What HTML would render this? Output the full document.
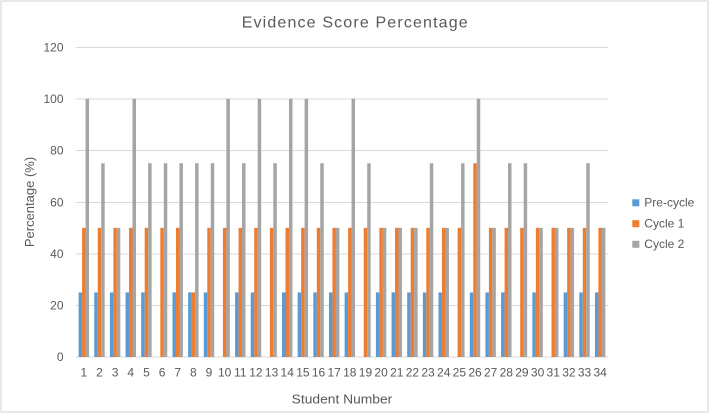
<!DOCTYPE html>
<html>
<head>
<meta charset="utf-8">
<style>
html,body{margin:0;padding:0;background:#fff;}
svg{display:block;font-family:"Liberation Sans",sans-serif;}
.b{fill:#5B9BD5}
.o{fill:#ED7D31}
.g{fill:#A5A5A5}
.t{fill:#595959}
</style>
</head>
<body>
<svg width="710" height="414" viewBox="0 0 710 414" xmlns="http://www.w3.org/2000/svg">
<rect x="0" y="0" width="710" height="414" fill="#fff"/>
<rect x="1" y="1" width="707" height="411" fill="none" stroke="#D9D9D9" stroke-width="1.2"/>
<text class="t" x="241.7" y="27.3" font-size="16" textLength="226" lengthAdjust="spacing">Evidence Score Percentage</text>
<g stroke="#D9D9D9" stroke-width="1">
<line x1="76" x2="608" y1="47.5" y2="47.5"/>
<line x1="76" x2="608" y1="99" y2="99"/>
<line x1="76" x2="608" y1="150.5" y2="150.5"/>
<line x1="76" x2="608" y1="202.5" y2="202.5"/>
<line x1="76" x2="608" y1="254" y2="254"/>
<line x1="76" x2="608" y1="305.5" y2="305.5"/>
<line x1="76" x2="608" y1="357" y2="357"/>
</g>
<g class="t" font-size="12" text-anchor="end">
<text x="63.5" y="51.5">120</text>
<text x="63.5" y="103">100</text>
<text x="63.5" y="154.5">80</text>
<text x="63.5" y="206.5">60</text>
<text x="63.5" y="258">40</text>
<text x="63.5" y="309.5">20</text>
<text x="63.5" y="361">0</text>
</g>
<text class="t" font-size="13" transform="translate(34,202) rotate(-90)" text-anchor="middle">Percentage (%)</text>
<text class="t" font-size="13" x="291.7" y="403.5" textLength="100.6" lengthAdjust="spacingAndGlyphs">Student Number</text>

<defs>
<rect id="b25" class="b" x="2.61" y="292.42" width="3.48" height="64.58"/>
<rect id="o25" class="o" x="6.09" y="292.42" width="3.48" height="64.58"/>
<rect id="o50" class="o" x="6.09" y="227.83" width="3.48" height="129.17"/>
<rect id="o75" class="o" x="6.09" y="163.25" width="3.48" height="193.75"/>
<rect id="g50" class="g" x="9.56" y="227.83" width="3.48" height="129.17"/>
<rect id="g75" class="g" x="9.56" y="163.25" width="3.48" height="193.75"/>
<rect id="g100" class="g" x="9.56" y="98.67" width="3.48" height="258.33"/>
</defs>

<g transform="translate(76,0)"><use href="#b25"/><use href="#o50"/><use href="#g100"/></g>
<g transform="translate(91.65,0)"><use href="#b25"/><use href="#o50"/><use href="#g75"/></g>
<g transform="translate(107.29,0)"><use href="#b25"/><use href="#o50"/><use href="#g50"/></g>
<g transform="translate(122.94,0)"><use href="#b25"/><use href="#o50"/><use href="#g100"/></g>
<g transform="translate(138.59,0)"><use href="#b25"/><use href="#o50"/><use href="#g75"/></g>
<g transform="translate(154.24,0)"><use href="#o50"/><use href="#g75"/></g>
<g transform="translate(169.88,0)"><use href="#b25"/><use href="#o50"/><use href="#g75"/></g>
<g transform="translate(185.53,0)"><use href="#b25"/><use href="#o25"/><use href="#g75"/></g>
<g transform="translate(201.18,0)"><use href="#b25"/><use href="#o50"/><use href="#g75"/></g>
<g transform="translate(216.82,0)"><use href="#o50"/><use href="#g100"/></g>
<g transform="translate(232.47,0)"><use href="#b25"/><use href="#o50"/><use href="#g75"/></g>
<g transform="translate(248.12,0)"><use href="#b25"/><use href="#o50"/><use href="#g100"/></g>
<g transform="translate(263.76,0)"><use href="#o50"/><use href="#g75"/></g>
<g transform="translate(279.41,0)"><use href="#b25"/><use href="#o50"/><use href="#g100"/></g>
<g transform="translate(295.06,0)"><use href="#b25"/><use href="#o50"/><use href="#g100"/></g>
<g transform="translate(310.71,0)"><use href="#b25"/><use href="#o50"/><use href="#g75"/></g>
<g transform="translate(326.35,0)"><use href="#b25"/><use href="#o50"/><use href="#g50"/></g>
<g transform="translate(342,0)"><use href="#b25"/><use href="#o50"/><use href="#g100"/></g>
<g transform="translate(357.65,0)"><use href="#o50"/><use href="#g75"/></g>
<g transform="translate(373.29,0)"><use href="#b25"/><use href="#o50"/><use href="#g50"/></g>
<g transform="translate(388.94,0)"><use href="#b25"/><use href="#o50"/><use href="#g50"/></g>
<g transform="translate(404.59,0)"><use href="#b25"/><use href="#o50"/><use href="#g50"/></g>
<g transform="translate(420.24,0)"><use href="#b25"/><use href="#o50"/><use href="#g75"/></g>
<g transform="translate(435.88,0)"><use href="#b25"/><use href="#o50"/><use href="#g50"/></g>
<g transform="translate(451.53,0)"><use href="#o50"/><use href="#g75"/></g>
<g transform="translate(467.18,0)"><use href="#b25"/><use href="#o75"/><use href="#g100"/></g>
<g transform="translate(482.82,0)"><use href="#b25"/><use href="#o50"/><use href="#g50"/></g>
<g transform="translate(498.47,0)"><use href="#b25"/><use href="#o50"/><use href="#g75"/></g>
<g transform="translate(514.12,0)"><use href="#o50"/><use href="#g75"/></g>
<g transform="translate(529.76,0)"><use href="#b25"/><use href="#o50"/><use href="#g50"/></g>
<g transform="translate(545.41,0)"><use href="#o50"/><use href="#g50"/></g>
<g transform="translate(561.06,0)"><use href="#b25"/><use href="#o50"/><use href="#g50"/></g>
<g transform="translate(576.71,0)"><use href="#b25"/><use href="#o50"/><use href="#g75"/></g>
<g transform="translate(592.35,0)"><use href="#b25"/><use href="#o50"/><use href="#g50"/></g>

<g class="t" font-size="12" text-anchor="middle">
<text x="83.82" y="376.5">1</text>
<text x="99.47" y="376.5">2</text>
<text x="115.11" y="376.5">3</text>
<text x="130.76" y="376.5">4</text>
<text x="146.41" y="376.5">5</text>
<text x="162.06" y="376.5">6</text>
<text x="177.70" y="376.5">7</text>
<text x="193.35" y="376.5">8</text>
<text x="209.00" y="376.5">9</text>
<text x="224.64" y="376.5">10</text>
<text x="240.29" y="376.5">11</text>
<text x="255.94" y="376.5">12</text>
<text x="271.58" y="376.5">13</text>
<text x="287.23" y="376.5">14</text>
<text x="302.88" y="376.5">15</text>
<text x="318.53" y="376.5">16</text>
<text x="334.17" y="376.5">17</text>
<text x="349.82" y="376.5">18</text>
<text x="365.47" y="376.5">19</text>
<text x="381.11" y="376.5">20</text>
<text x="396.76" y="376.5">21</text>
<text x="412.41" y="376.5">22</text>
<text x="428.06" y="376.5">23</text>
<text x="443.70" y="376.5">24</text>
<text x="459.35" y="376.5">25</text>
<text x="475.00" y="376.5">26</text>
<text x="490.64" y="376.5">27</text>
<text x="506.29" y="376.5">28</text>
<text x="521.94" y="376.5">29</text>
<text x="537.58" y="376.5">30</text>
<text x="553.23" y="376.5">31</text>
<text x="568.88" y="376.5">32</text>
<text x="584.53" y="376.5">33</text>
<text x="600.17" y="376.5">34</text>
</g>

<rect class="b" x="632.3" y="199.3" width="7" height="7"/>
<rect class="o" x="632.3" y="220.2" width="7" height="7"/>
<rect class="g" x="632.3" y="240.8" width="7" height="7"/>
<g class="t" font-size="12">
<text x="644.3" y="206.5">Pre-cycle</text>
<text x="644.3" y="227.5">Cycle 1</text>
<text x="644.3" y="248.2">Cycle 2</text>
</g>
</svg>
</body>
</html>
